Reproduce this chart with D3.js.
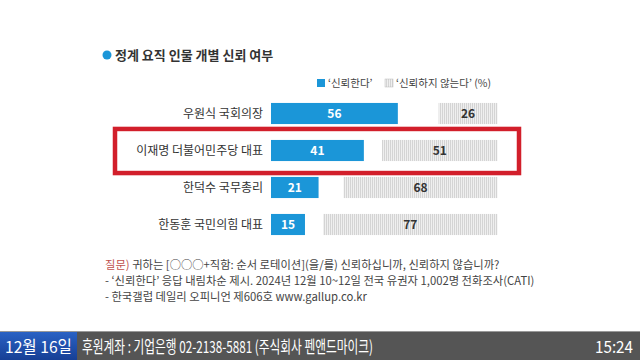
<!DOCTYPE html>
<html><head><meta charset="utf-8">
<script src="https://cdn.jsdelivr.net/npm/d3@7"></script>
<style>
html,body{margin:0;padding:0;background:#fff;}
svg{display:block;font-family:"Noto Sans CJK KR","Noto Sans",sans-serif;}
</style></head>
<body>
<svg id="c" width="640" height="360"></svg>
<script>
const title = "정계 요직 인물 개별 신뢰 여부";
const categories = ["우원식 국회의장", "이재명 더불어민주당 대표", "한덕수 국무총리", "한동훈 국민의힘 대표"];
const trust = [56, 41, 21, 15];
const distrust = [26, 51, 68, 77];
const highlightIndex = 1;
const legendLabels = ["‘신뢰한다’", "‘신뢰하지 않는다’ (%)"];
const notes = [
  ["질문)", " 귀하는 [○○○+직함: 순서 로테이션](을/를) 신뢰하십니까, 신뢰하지 않습니까?"],
  ["", "- ‘신뢰한다’ 응답 내림차순 제시. 2024년 12월 10~12일 전국 유권자 1,002명 전화조사(CATI)"],
  ["", "- 한국갤럽 데일리 오피니언 제606호 www.gallup.co.kr"]
];
const tickerDate = "12월 16일";
const tickerText = "후원계좌 : 기업은행 02-2138-5881 (주식회사 펜앤드마이크)";
const tickerTime = "15:24";

const svg = d3.select("#c");
const blue = "#1b96d8";

const defs = svg.append("defs");
const pat = defs.append("pattern").attr("id","stripe").attr("patternUnits","userSpaceOnUse")
  .attr("width",2).attr("height",4);
pat.append("rect").attr("width",2).attr("height",4).attr("fill","#efefef");
pat.append("rect").attr("width",1).attr("height",4).attr("fill","#d4d4d4");

// title
svg.append("circle").attr("cx",107).attr("cy",55).attr("r",4.5).attr("fill",blue);
svg.append("text").attr("x",115).attr("y",60).attr("font-size",13).attr("font-weight","bold")
  .attr("fill","#333").text(title);

// legend
svg.append("rect").attr("x",317).attr("y",79).attr("width",8).attr("height",8).attr("fill",blue);
svg.append("text").attr("x",328).attr("y",87).attr("font-size",10.5).attr("fill","#444").text(legendLabels[0]);
svg.append("rect").attr("x",385).attr("y",79).attr("width",8).attr("height",8).attr("fill","url(#stripe)").attr("stroke","#bbb").attr("stroke-width",0.5);
svg.append("text").attr("x",396).attr("y",87).attr("font-size",10.5).attr("fill","#444").text(legendLabels[1]);

const x = d3.scaleLinear().domain([0,100]).range([271,497.5]);
const y = d3.scaleBand().domain(categories).range([95,243]).paddingInner(0.43).paddingOuter(0.215);

const rows = svg.append("g").selectAll("g").data(categories).join("g");
rows.append("text").attr("x",263).attr("y",d=>y(d)+y.bandwidth()/2+4.5)
  .attr("text-anchor","end").attr("font-size",12).attr("fill","#333").text(d=>d);
rows.append("rect").attr("x",x(0)).attr("y",d=>y(d))
  .attr("width",(d,i)=>x(trust[i])-x(0)).attr("height",y.bandwidth()).attr("fill",blue);
rows.append("rect").attr("x",(d,i)=>x(100-distrust[i])).attr("y",d=>y(d))
  .attr("width",(d,i)=>x(100)-x(100-distrust[i])).attr("height",y.bandwidth()).attr("fill","url(#stripe)");
rows.append("text").attr("x",(d,i)=>x(trust[i]/2)).attr("y",d=>y(d)+y.bandwidth()/2+4.5)
  .attr("text-anchor","middle").attr("font-size",12).attr("font-weight","bold").attr("fill","#fff")
  .text((d,i)=>trust[i]);
rows.append("text").attr("x",(d,i)=>x(100-distrust[i]/2)).attr("y",d=>y(d)+y.bandwidth()/2+4.5)
  .attr("text-anchor","middle").attr("font-size",12).attr("font-weight","bold").attr("fill","#333")
  .text((d,i)=>distrust[i]);

// highlight box
const hb = categories[highlightIndex];
svg.append("rect").attr("x",115).attr("y",y(hb)-11).attr("width",404).attr("height",y.bandwidth()+23)
  .attr("fill","none").attr("stroke","#d21f2b").attr("stroke-width",4.5);

// notes
notes.forEach((n,i)=>{
  const t = svg.append("text").attr("x",105).attr("y",269+i*16).attr("font-size",11.3).attr("fill","#444");
  if(n[0]) t.append("tspan").attr("fill","#c0504d").text(n[0]);
  t.append("tspan").text(n[1]);
});

// ticker
svg.append("rect").attr("x",0).attr("y",332).attr("width",640).attr("height",28).attr("fill","#555");
svg.append("rect").attr("x",0).attr("y",331).attr("width",640).attr("height",1).attr("fill","#999");
const gr = defs.append("linearGradient").attr("id","bl").attr("x1",0).attr("y1",0).attr("x2",0).attr("y2",1);
gr.append("stop").attr("offset",0).attr("stop-color","#2a62c4");
gr.append("stop").attr("offset",1).attr("stop-color","#163f95");
svg.append("rect").attr("x",0).attr("y",332).attr("width",77).attr("height",28).attr("fill","url(#bl)");
svg.append("text").attr("x",5).attr("y",353).attr("font-size",16.5).attr("fill","#fff")
  .attr("textLength",67).attr("lengthAdjust","spacingAndGlyphs").text(tickerDate);
svg.append("text").attr("x",82).attr("y",353).attr("font-size",16.5).attr("fill","#fff")
  .attr("textLength",291).attr("lengthAdjust","spacingAndGlyphs").text(tickerText);
svg.append("text").attr("x",595).attr("y",353).attr("font-size",16.5).attr("fill","#fff")
  .attr("textLength",38).attr("lengthAdjust","spacingAndGlyphs").text(tickerTime);
</script>
</body></html>
